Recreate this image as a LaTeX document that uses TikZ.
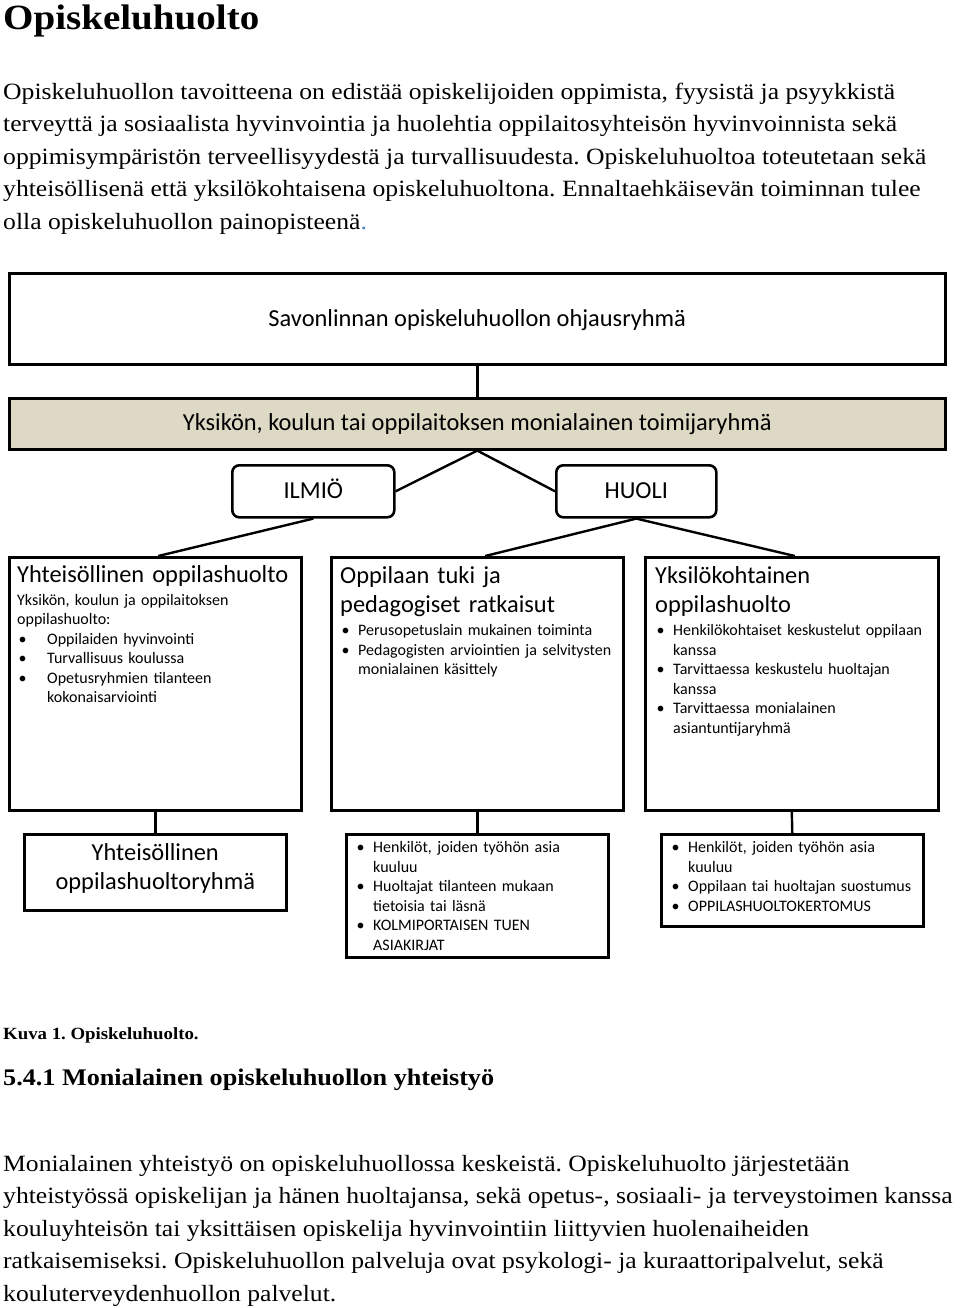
\documentclass[tikz,border=0pt]{standalone}
\usepackage{fontspec}
\setmainfont[FakeStretch=1.1]{Liberation Serif}
\newfontfamily\calibri{Carlito}
\usetikzlibrary{positioning}
\definecolor{tanfill}{HTML}{DDD9C4}
\definecolor{dotblue}{HTML}{4F81BD}
\newcommand{\bitem}[2][18pt]{\par\hangindent=#1\hangafter=1\noindent\makebox[#1][l]{\hspace{1.5pt}\textbullet}#2\par}
\frenchspacing

\begin{document}
\begin{tikzpicture}[x=1pt,y=-1pt,
 box/.style={draw=black,line width=2.6pt,fill=white,anchor=north west,inner sep=0pt},
 rbox/.style={box,rounded corners=7pt},
 con/.style={line width=2.4pt,black},
 mid/.style={font=\calibri\fontsize{24.4}{29}\selectfont,inner sep=0pt,text height=0.66em,text depth=0.2em,yshift=-5pt},
 head/.style={anchor=north west,inner sep=0pt,text width=#1,align=left,font=\calibri\fontsize{24.4}{29}\selectfont},
 lst/.style={anchor=north west,inner sep=0pt,text width=#1,align=left,font=\calibri\fontsize{16}{19.5}\selectfont},
 para/.style={anchor=north west,inner sep=0pt,align=left,font=\fontsize{23.3}{32.5}\selectfont}]
\useasboundingbox[fill=white] (0,0) rectangle (960,1308);

% page text above the figure
\node[anchor=north west,inner sep=0pt,font=\bfseries\fontsize{35.5}{38}\selectfont] (title) at (3,5) {Opiskeluhuolto};
\node[para] (intro) at (3,82.5) {Opiskeluhuollon tavoitteena on edistää opiskelijoiden oppimista, fyysistä ja psyykkistä\\
terveyttä ja sosiaalista hyvinvointia ja huolehtia oppilaitosyhteisön hyvinvoinnista sekä\\
oppimisympäristön terveellisyydestä ja turvallisuudesta. Opiskeluhuoltoa toteutetaan sekä\\
yhteisöllisenä että yksilökohtaisena opiskeluhuoltona. Ennaltaehkäisevän toiminnan tulee\\
olla opiskeluhuollon painopisteenä\textcolor{dotblue}{.}};

% boxes
\node[box,minimum width=936pt,minimum height=91pt] (ohj) at (8,272) {};
\node[box,fill=tanfill,minimum width=936pt,minimum height=51pt] (tmr) at (8,397) {};
\node[rbox,minimum width=162pt,minimum height=52pt] (ilmio) at (231,464) {};
\node[rbox,minimum width=160pt,minimum height=52pt] (huoli) at (555,464) {};
\node[box,minimum width=292pt,minimum height=253pt] (yht) at (8,556) {};
\node[box,minimum width=292pt,minimum height=253pt] (tuki) at (330,556) {};
\node[box,minimum width=293pt,minimum height=253pt] (yks) at (644,556) {};
\node[box,minimum width=262pt,minimum height=76pt] (yhtr) at (23,833) {};
\node[box,minimum width=262pt,minimum height=123pt] (tukir) at (345,833) {};
\node[box,minimum width=262pt,minimum height=92pt] (yksr) at (660,833) {};

\node[mid] at (ohj.center) {Savonlinnan opiskeluhuollon ohjausryhmä};
\node[mid,yshift=1pt] at (tmr.center) {Yksikön, koulun tai oppilaitoksen monialainen toimijaryhmä};
\node[mid] at (ilmio.center) {ILMIÖ};
\node[mid] at (huoli.center) {HUOLI};

\node[head=288pt] (yhth) at (17,565) {Yhteisöllinen oppilashuolto};
\node[lst=280pt] (yhtl) at (17,594) {Yksikön, koulun ja oppilaitoksen\newline oppilashuolto:
 \bitem[30pt]{Oppilaiden hyvinvointi}
 \bitem[30pt]{Turvallisuus koulussa}
 \bitem[30pt]{Opetusryhmien tilanteen\newline kokonaisarviointi}};
\node[head=280pt] (tukih) at (340,566) {Oppilaan tuki ja\newline pedagogiset ratkaisut};
\node[lst=280pt] (tukil) at (340,616) {\bitem{Perusopetuslain mukainen toiminta}
 \bitem{Pedagogisten arviointien ja selvitysten\newline monialainen käsittely}};
\node[head=280pt] (yksh) at (655,566) {Yksilökohtainen\newline oppilashuolto};
\node[lst=280pt] (yksl) at (655,616) {\bitem{Henkilökohtaiset keskustelut oppilaan\newline kanssa}
 \bitem{Tarvittaessa keskustelu huoltajan\newline kanssa}
 \bitem{Tarvittaessa monialainen\newline asiantuntijaryhmä}};

\node[align=center,inner sep=0pt,yshift=4pt,font=\calibri\fontsize{24.4}{29}\selectfont] at (yhtr.center) {Yhteisöllinen\\oppilashuoltoryhmä};
\node[lst=255pt] (tukirl) at (355,833) {\bitem{Henkilöt, joiden työhön asia\newline kuuluu}
 \bitem{Huoltajat tilanteen mukaan\newline tietoisia tai läsnä}
 \bitem{KOLMIPORTAISEN TUEN\newline ASIAKIRJAT}};
\node[lst=255pt] (yksrl) at (670,833) {\bitem{Henkilöt, joiden työhön asia\newline kuuluu}
 \bitem{Oppilaan tai huoltajan suostumus}
 \bitem{OPPILASHUOLTOKERTOMUS}};

% connectors
\draw[con] (ohj.south) -- (tmr.north);
\draw[con] (tmr.south) -- (ilmio.east);
\draw[con] (tmr.south) -- (huoli.west);
\draw[con] (ilmio.south) -- ([xshift=3pt]yht.north);
\draw[con] (huoli.south) -- ([xshift=8pt]tuki.north);
\draw[con] (huoli.south) -- ([xshift=3pt]yks.north);
\foreach \a/\b in {yht/yhtr,tuki/tukir,yks/yksr} {\draw[con] (\a.south) -- (\b.north);}

% page text below the figure
\node[anchor=north west,inner sep=0pt,font=\bfseries\fontsize{17.1}{20}\selectfont] (kuva) at (3,1027) {Kuva 1. Opiskeluhuolto.};
\node[anchor=north west,inner sep=0pt,font=\bfseries\fontsize{23.8}{28}\selectfont] (sec) at (3,1069) {5.4.1 Monialainen opiskeluhuollon yhteistyö};
\node[para] (yhteis) at (3,1155) {Monialainen yhteistyö on opiskeluhuollossa keskeistä. Opiskeluhuolto järjestetään\\
yhteistyössä opiskelijan ja hänen huoltajansa, sekä opetus-, sosiaali- ja terveystoimen kanssa\\
kouluyhteisön tai yksittäisen opiskelija hyvinvointiin liittyvien huolenaiheiden\\
ratkaisemiseksi. Opiskeluhuollon palveluja ovat psykologi- ja kuraattoripalvelut, sekä\\
kouluterveydenhuollon palvelut.};
\end{tikzpicture}
\end{document}
